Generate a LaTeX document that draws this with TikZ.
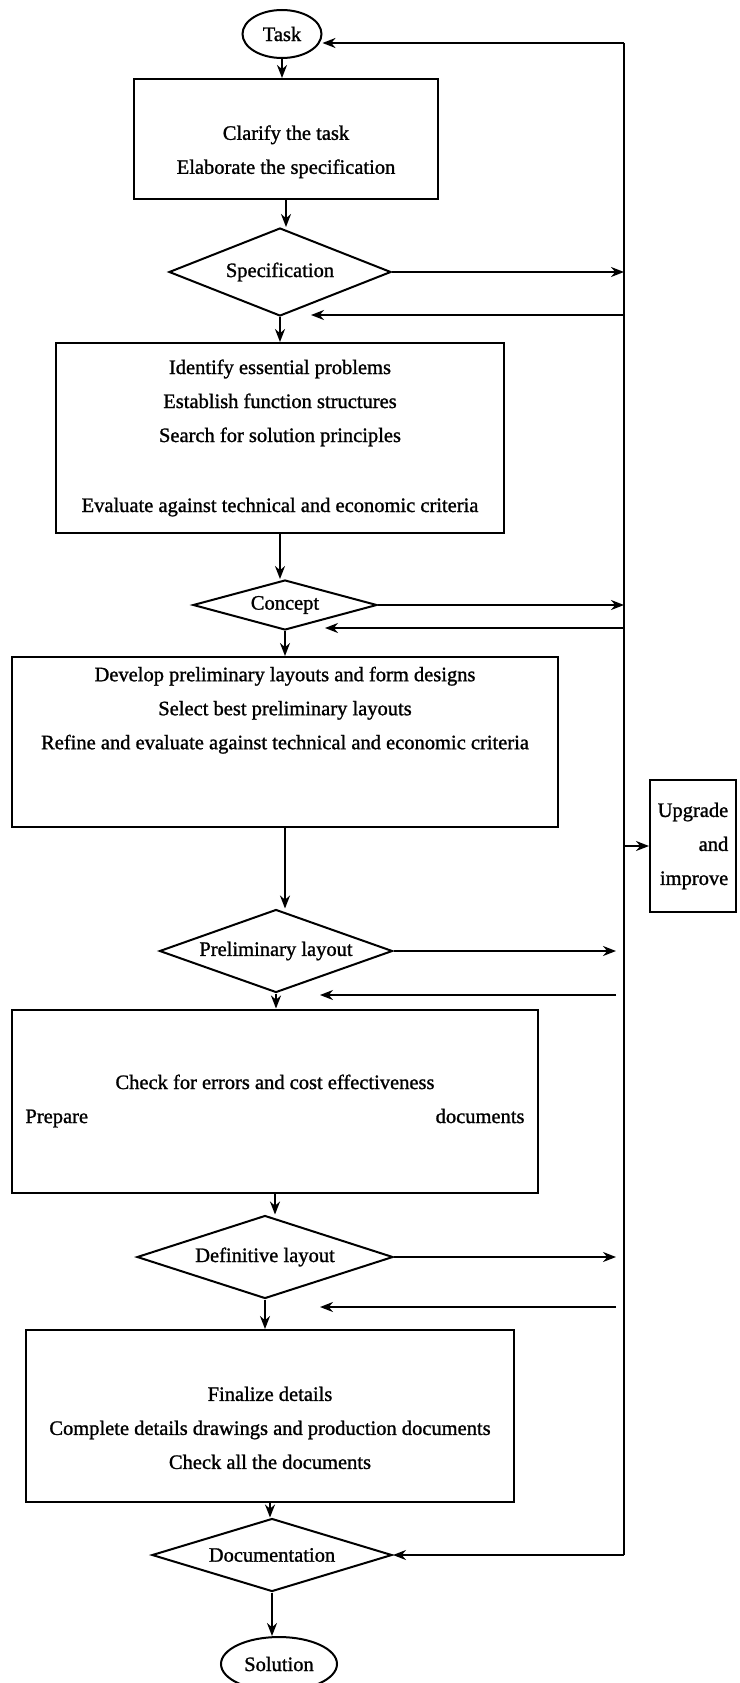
\documentclass[tikz,border=0pt]{standalone}
\usepackage{fontspec}
\setmainfont{Liberation Serif}[FakeBold=1.2]
\usetikzlibrary{shapes.geometric, arrows.meta}
\tikzstyle{startstop} = [ellipse, inner sep=0pt, text centered, draw=black, line width=2pt]
\tikzstyle{process} = [rectangle, inner sep=0pt, align=center, draw=black, line width=2pt]
\tikzstyle{decision} = [diamond, inner sep=0pt, text centered, draw=black, line width=2pt]
\tikzstyle{arrow} = [line width=2pt,->,>={Stealth[length=13pt,width=10pt]}]
\tikzstyle{bus} = [line width=2pt]

\begin{document}
\begin{tikzpicture}[x=1pt, y=-1pt, font=\fontsize{20.5}{34}\selectfont]
\useasboundingbox (0,0) rectangle (739,1683);

\node (task) [startstop, minimum width=79pt, minimum height=48pt] at (282,34) {Task};
\node (clarify) [process, minimum width=304pt, minimum height=120pt] at (286,139) {\rule{0pt}{40pt}Clarify the task\\Elaborate the specification};
\node (spec) [decision, minimum width=222pt, minimum height=88pt, aspect=2.5] at (280,272) {Specification};
\node (principles) [process, minimum width=448pt, minimum height=190pt] at (280,438) {Identify essential problems\\Establish function structures\\Search for solution principles\\[36pt]Evaluate against technical and economic criteria};
\node (concept) [decision, minimum width=184pt, minimum height=50pt, aspect=3.7] at (285,605) {Concept};
\node (layouts) [process, minimum width=546pt, minimum height=170pt] at (285,742) {Develop preliminary layouts and form designs\\Select best preliminary layouts\\Refine and evaluate against technical and economic criteria\\~\\~};
\node (prelim) [decision, minimum width=233pt, minimum height=83pt, aspect=2.8] at (276,951) {Preliminary layout};
\node (check) [process, minimum width=526pt, minimum height=183pt] at (275,1101) {Check for errors and cost effectiveness\\\makebox[499pt]{Prepare\hfill documents}};
\node (definitive) [decision, minimum width=256pt, minimum height=83pt, aspect=3.1] at (265,1257) {Definitive layout};
\node (details) [process, minimum width=488pt, minimum height=172pt] at (270,1416) {\rule{0pt}{38pt}Finalize details\\Complete details drawings and production documents\\Check all the documents};
\node (doc) [decision, minimum width=240pt, minimum height=73pt, aspect=3.3] at (272,1555) {Documentation};
\node (solution) [startstop, minimum width=116pt, minimum height=54pt] at (279,1664) {Solution};
\node (upgrade) [process, minimum width=86pt, minimum height=132pt, align=right] at (693,846) {Upgrade\\and\\improve};

\coordinate (bustop) at (624,43);
\coordinate (busbot) at (624,1555);
\coordinate (specout) at (624,272);
\coordinate (specret) at (624,315);
\coordinate (specin) at (311,315);
\coordinate (conceptout) at (624,605);
\coordinate (conceptret) at (624,628);
\coordinate (conceptin) at (325,628);
\coordinate (upgradeout) at (624,846);
\coordinate (prelimout) at (616,951);
\coordinate (prelimret) at (616,995);
\coordinate (prelimin) at (320,995);
\coordinate (definitiveout) at (616,1257);
\coordinate (definitiveret) at (616,1307);
\coordinate (definitivein) at (320,1307);

\draw [arrow] (task.south) -- (task.south |- clarify.north);
\draw [arrow] (clarify.south) -- (clarify.south |- spec.north);
\draw [arrow] (spec.south) -- (spec.south |- principles.north);
\draw [arrow] (principles.south) -- (principles.south |- concept.north);
\draw [arrow] (concept.south) -- (concept.south |- layouts.north);
\draw [arrow] (layouts.south) -- (layouts.south |- prelim.north);
\draw [arrow] (prelim.south) -- (prelim.south |- check.north);
\draw [arrow] (check.south) -- (check.south |- definitive.north);
\draw [arrow] (definitive.south) -- (definitive.south |- details.north);
\draw [arrow] (details.south) -- (details.south |- doc.north);
\draw [arrow] (doc.south) -- (doc.south |- solution.north);

\draw [bus] (bustop) -- (busbot);
\draw [arrow] (bustop) -- (bustop -| task.east);
\draw [arrow] (busbot) -- (doc.east);
\draw [arrow] (spec.east) -- (specout);
\draw [arrow] (specret) -- (specin);
\draw [arrow] (concept.east) -- (conceptout);
\draw [arrow] (conceptret) -- (conceptin);
\draw [arrow] (upgradeout) -- (upgrade.west);
\draw [arrow] (prelim.east) -- (prelimout);
\draw [arrow] (prelimret) -- (prelimin);
\draw [arrow] (definitive.east) -- (definitiveout);
\draw [arrow] (definitiveret) -- (definitivein);

\end{tikzpicture}
\end{document}
